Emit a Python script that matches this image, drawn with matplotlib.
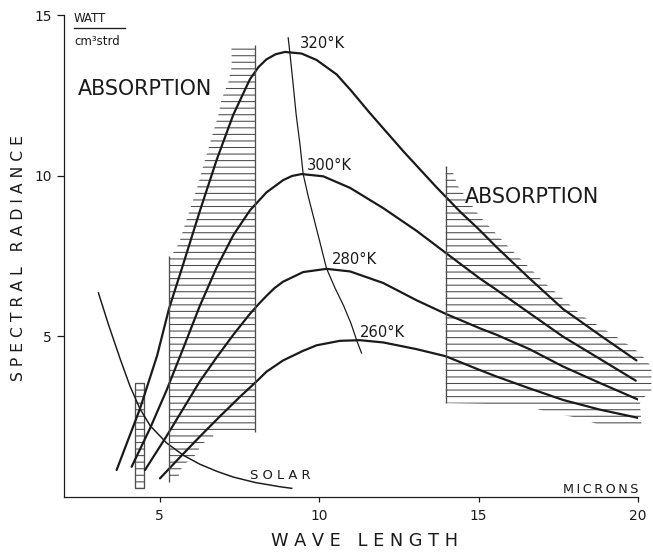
import matplotlib.pyplot as plt
from matplotlib.patches import Polygon, Rectangle

DPI = 118

# black body curves (microns, radiance)
t320_x = [3.65, 4.38, 4.92, 5.29, 5.74, 6.26, 6.79, 7.31, 7.83, 8.1, 8.35, 8.64, 8.93, 9.45,
          9.92, 10.55, 11.0, 11.59, 12.64, 13.68, 14.41, 15.04, 15.56, 16.6, 17.65, 18.8,
          19.95]
t320_y = [0.84, 2.74, 4.4, 5.85, 7.25, 8.9, 10.5, 11.9, 13.0, 13.38, 13.62, 13.78, 13.85,
          13.8, 13.6, 13.15, 12.65, 11.95, 10.76, 9.64, 8.89, 8.3, 7.78, 6.8, 5.85, 5.04,
          4.25]

t300_x = [4.12, 4.7, 5.22, 5.74, 6.26, 6.79, 7.31, 7.83, 8.35, 8.87, 9.15, 9.45, 10.13,
          10.97, 12.01, 13.06, 14.1, 15.04, 15.56, 16.6, 17.65, 18.8, 19.93]
t300_y = [0.94, 2.14, 3.33, 4.63, 5.95, 7.15, 8.15, 8.92, 9.48, 9.86, 9.99, 10.05, 9.98,
          9.62, 8.99, 8.28, 7.5, 6.8, 6.45, 5.72, 4.99, 4.3, 3.62]

t280_x = [4.54, 5.22, 5.74, 6.26, 6.79, 7.31, 7.83, 8.1, 8.35, 8.6, 8.87, 9.5, 10.23,
          10.97, 12.01, 13.06, 13.97, 15.04, 15.56, 16.6, 17.65, 18.8, 20.03]
t280_y = [0.84, 1.9, 2.75, 3.6, 4.35, 5.05, 5.7, 6.0, 6.26, 6.5, 6.7, 7.0, 7.1,
          7.02, 6.66, 6.12, 5.7, 5.25, 5.05, 4.6, 4.06, 3.55, 3.02]

t260_x = [5.01, 5.6, 6.26, 6.9, 7.52, 8.04, 8.35, 8.87, 9.5, 9.92, 10.65, 11.28, 12.01,
          13.06, 13.97, 15.04, 15.56, 16.6, 17.65, 18.8, 20.06]
t260_y = [0.58, 1.2, 1.88, 2.52, 3.12, 3.6, 3.9, 4.25, 4.55, 4.72, 4.86, 4.88, 4.81,
          4.6, 4.38, 3.95, 3.75, 3.38, 3.02, 2.72, 2.45]

# locus of the maxima
wien_x = [9.03, 9.08, 9.17, 9.28, 9.4, 9.5, 9.66, 9.82, 10.02, 10.23, 10.5, 10.77, 11.0,
          11.18, 11.33]
wien_y = [14.29, 13.85, 13.0, 11.9, 10.97, 10.05, 9.35, 8.73, 7.95, 7.12, 6.5, 5.95, 5.4,
          4.87, 4.48]

solar_x = [3.08, 3.4, 3.76, 4.07, 4.38, 4.7, 5.22, 5.74, 6.26, 6.79, 7.31, 8.0, 8.77, 9.14]
solar_y = [6.35, 5.35, 4.3, 3.45, 2.75, 2.22, 1.68, 1.3, 1.02, 0.8, 0.62, 0.45, 0.32, 0.27]

# absorption bands (outline of the shaded areas)
band_left_x = [5.3, 5.58, 5.64, 5.74, 6.03, 6.21, 6.26, 6.68, 6.68, 8.0, 8.0, 7.25, 7.26,
               7.15, 6.94, 6.83, 6.67, 6.52, 6.36, 6.2, 6.0, 5.8, 5.64, 5.48, 5.3]
band_left_y = [0.48, 0.6, 0.8, 1.0, 1.2, 1.42, 1.62, 1.85, 2.03, 2.03, 14.08, 14.08, 13.4,
               12.9, 12.37, 11.85, 11.33, 10.81, 10.29, 9.7, 9.1, 8.5, 8.0, 7.65, 7.51]

band_right_x = [13.97, 14.2, 14.36, 15.04, 16.03, 17.08, 18.28, 19.32, 20.06, 20.42, 20.42,
                20.16, 20.06, 20.11, 18.8, 18.18, 17.08, 16.45, 13.97]
band_right_y = [10.29, 10.08, 9.67, 8.73, 7.69, 6.66, 5.62, 4.99, 4.48, 4.06, 3.33,
                3.07, 2.92, 2.24, 2.24, 2.45, 2.66, 2.87, 2.92]

co2_x = (4.23, 4.51)
co2_y = (0.27, 3.54)

edge_x = [5.3, 8.0, 13.97]
edge_lo = [0.48, 2.03, 2.92]
edge_hi = [7.51, 14.08, 10.29]

labels = [('ABSORPTION', 2.44, 12.52, 12.6),
          ('ABSORPTION', 14.57, 9.15, 12.6),
          ('320°K', 9.40, 13.96, 9.0),
          ('300°K', 9.61, 10.19, 9.0),
          ('280°K', 10.39, 7.26, 9.0),
          ('260°K', 11.28, 4.98, 9.0),
          ('S O L A R', 7.83, 0.56, 8.0)]

plt.rcParams['font.family'] = ['DejaVu Sans']
plt.rcParams['hatch.linewidth'] = 0.65

ink = '#1a1a1a'
shade = '0.3'

fig, ax = plt.subplots(figsize=(653.01 / DPI, 556.01 / DPI), dpi=DPI)
fig.subplots_adjust(left=64 / 653, right=638 / 653, top=1 - 15 / 556, bottom=1 - 497 / 556)

for xs, ys in [(t320_x, t320_y), (t300_x, t300_y), (t280_x, t280_y), (t260_x, t260_y)]:
    ax.plot(xs, ys, color=ink, lw=1.35, solid_capstyle='round', solid_joinstyle='round')
ax.plot(wien_x, wien_y, color=ink, lw=0.75, solid_joinstyle='round')
ax.plot(solar_x, solar_y, color=ink, lw=0.9, solid_joinstyle='round')

for bx, by in [(band_left_x, band_left_y), (band_right_x, band_right_y)]:
    ax.add_patch(Polygon(list(zip(bx, by)), closed=True, fill=False, hatch='---',
                         edgecolor=shade, lw=0, clip_on=False))
ax.add_patch(Rectangle((co2_x[0], co2_y[0]), co2_x[1] - co2_x[0], co2_y[1] - co2_y[0],
                       fill=False, hatch='---', edgecolor=shade, lw=0.8))
ax.vlines(edge_x, edge_lo, edge_hi, color=shade, lw=0.8)

for txt, x, y, size in labels:
    ax.text(x, y, txt, fontsize=size, color=ink, ha='left', va='baseline')
ax.text(20.0, 0.12, 'M\u2009I\u2009C\u2009R\u2009O\u2009N\u2009S', fontsize=7.8, color=ink,
        ha='right', va='baseline')

# units in the corner
ax.text(2.31, 14.78, 'WATT', fontsize=7.2, color=ink, ha='left', va='baseline')
ax.plot([2.31, 3.91], [14.6, 14.6], color=ink, lw=0.8, clip_on=False)
ax.text(2.31, 14.08, 'cm³strd', fontsize=7.2, color=ink, ha='left', va='baseline')

ax.set_xlim(2, 20)
ax.set_ylim(0, 15)
ax.set_xticks([5, 10, 15, 20])
ax.set_yticks([5, 10, 15])
ax.tick_params(axis='x', direction='out', length=3, width=0.75, pad=4.5, labelsize=8.4,
               colors=ink)
ax.tick_params(axis='y', direction='out', length=4.3, width=0.75, pad=3, labelsize=8.4,
               colors=ink)
for side in ['top', 'right']:
    ax.spines[side].set_visible(False)
for side in ['left', 'bottom']:
    ax.spines[side].set_linewidth(0.75)
    ax.spines[side].set_color(ink)

ax.set_xlabel('W A V E   L E N G T H', fontsize=10.8, color=ink)
ax.xaxis.label.set_va('center')
ax.xaxis.set_label_coords(0.524, -0.091)
ax.set_ylabel('S P E C T R A L   R A D I A N C E', fontsize=9.5, color=ink)
ax.yaxis.label.set_va('center')
ax.yaxis.set_label_coords(-0.080, 0.496)

fig.savefig('out.png', dpi=DPI, facecolor='white')
